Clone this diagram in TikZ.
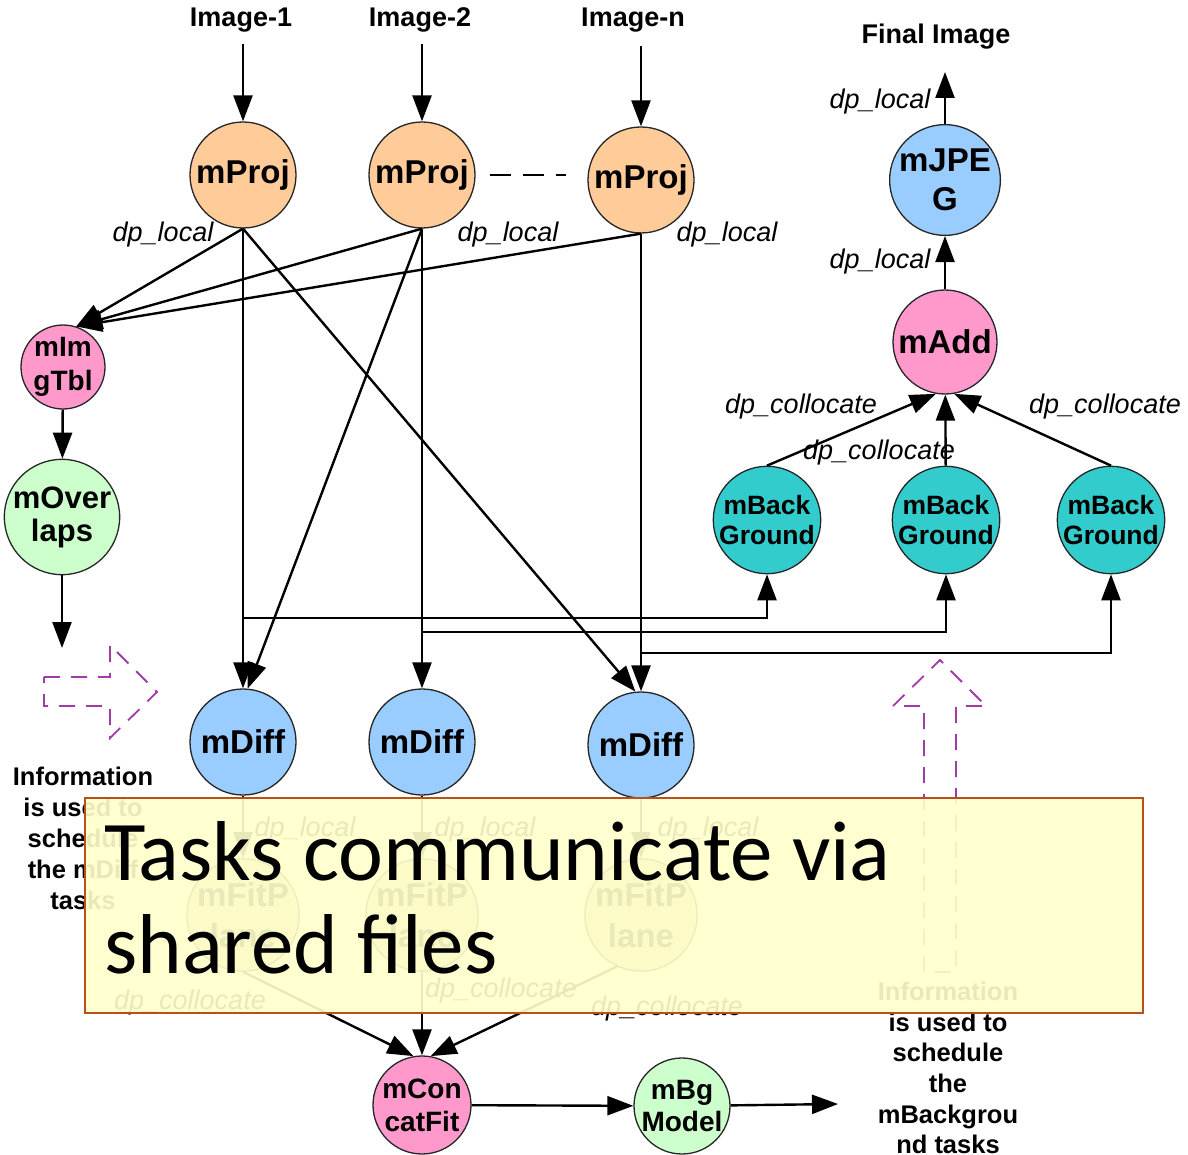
\documentclass[tikz,border=0pt]{standalone}
\usepackage{fontspec}
\setmainfont{Liberation Sans}
\newfontfamily\calibrifont{Carlito}
\usetikzlibrary{arrows.meta}
\definecolor{projc}{HTML}{FFCC99}
\definecolor{pinkc}{HTML}{FF99CC}
\definecolor{greenc}{HTML}{CCFFCC}
\definecolor{bluec}{HTML}{99CCFF}
\definecolor{tealc}{HTML}{33CCCC}
\definecolor{fitc}{HTML}{E6C896}
\definecolor{purplec}{HTML}{A03CA8}
\definecolor{notec}{HTML}{FFFFCC}
\definecolor{noteb}{HTML}{B8501E}
\begin{document}
\begin{tikzpicture}[x=1pt,y=-1pt,
 task/.style={circle, draw=black!85, line width=1.3pt, inner sep=0pt, minimum size=#1, align=center, font=\bfseries\fontsize{33}{38}\selectfont},
 txt/.style={inner sep=0pt, align=center, font=\bfseries\fontsize{27}{31}\selectfont},
 lbl/.style={inner sep=0pt, font=\itshape\fontsize{27}{30}\selectfont},
 conn/.style={line width=2.4pt, -{Triangle[length=26pt,width=19pt]}},
 hollow/.style={draw=purplec, line width=1.8pt, dash pattern=on 16pt off 11pt},
]
\useasboundingbox (0,0) rectangle (1188,1155);
\fill[white] (0,0) rectangle (1188,1155);

% top labels
\node[txt] (im1) at (241,20) {Image-1};
\node[txt] (im2) at (420,20) {Image-2};
\node[txt] (imn) at (633,20) {Image-n};
\node[txt] (fin) at (936,37) {Final Image};

% tasks
\node[task=106, fill=projc] (p1) at (243,175) {mProj};
\node[task=106, fill=projc] (p2) at (422,175) {mProj};
\node[task=106, fill=projc] (pn) at (641,180) {mProj};
\node[task=84, fill=pinkc, font=\bfseries\fontsize{28}{34}\selectfont] (img) at (63,367) {mIm\\gTbl};
\node[task=102, fill=greenc, font=\bfseries\fontsize{31}{33}\selectfont] (ov) at (62,517) {mOver\\laps};
\node[task=106, fill=bluec] (d1) at (243,742) {mDiff};
\node[task=106, fill=bluec] (d2) at (422,742) {mDiff};
\node[task=106, fill=bluec] (d3) at (641,745) {mDiff};
\node[task=106, fill=fitc, font=\bfseries\fontsize{33}{41}\selectfont] (f1) at (243,915) {mFitP\\lane};
\node[task=106, fill=fitc, font=\bfseries\fontsize{33}{41}\selectfont] (f2) at (422,915) {mFitP\\lane};
\node[task=106, fill=fitc, font=\bfseries\fontsize{33}{41}\selectfont] (f3) at (641,915) {mFitP\\lane};
\node[task=98, fill=pinkc, font=\bfseries\fontsize{28}{33}\selectfont] (cf) at (422,1105) {mCon\\catFit};
\node[task=96, fill=greenc, font=\bfseries\fontsize{28}{32}\selectfont] (bg) at (682,1106) {mBg\\Model};
\node[task=106, fill=tealc, font=\bfseries\fontsize{26.5}{30}\selectfont] (b1) at (767,520) {mBack\\Ground};
\node[task=106, fill=tealc, font=\bfseries\fontsize{26.5}{30}\selectfont] (b2) at (946,520) {mBack\\Ground};
\node[task=106, fill=tealc, font=\bfseries\fontsize{26.5}{30}\selectfont] (b3) at (1111,520) {mBack\\Ground};
\node[task=104, fill=pinkc] (add) at (945,342) {mAdd};
\node[task=106, fill=bluec, font=\bfseries\fontsize{33}{39}\selectfont] (jpg) at (945,180) {mJPE\\G};

% free ends and branch points
\coordinate (ovend) at (62,648);
\coordinate (finend) at (945,72);
\coordinate (bgend) at (838,1104);
\coordinate (br1) at (243,618);
\coordinate (br2) at (422,632);
\coordinate (br3) at (641,653);

% connectors
\draw[conn, shorten <=12pt] (im1.south -| p1.north) -- (p1.north);
\draw[conn, shorten <=12pt] (im2.south -| p2.north) -- (p2.north);
\draw[conn, shorten <=14pt] (imn.south -| pn.north) -- (pn.north);
\draw[dash pattern=on 21pt off 12pt, line width=2.2pt] ([xshift=14pt]p2.east) -- ([xshift=-21pt]p2.east -| pn.west);

\draw[conn] (p1.south) -- (img.72);
\draw[conn] (p2.south) -- (img.72);
\draw[conn] (pn.south) -- (img.72);
\draw[conn] (p1) -- (d1);
\draw[conn] (p1.south) -- (d3.96);
\draw[conn] (p2.south) -- (d1.85);
\draw[conn] (p2) -- (d2);
\draw[conn] (pn) -- (d3);
\draw[conn] (img) -- (ov);
\draw[conn] (ov) -- (ovend);

\draw[conn] (br1) -| (b1.south);
\draw[conn] (br2) -| (b2.south);
\draw[conn] (br3) -| (b3.south);

\draw[conn] (b1.north) -- (add.-100);
\draw[conn] (b2) -- (add);
\draw[conn] (b3.north) -- (add.-80);
\draw[conn] (add) -- (jpg);
\draw[conn] (jpg) -- (finend);

\draw[conn] (d1) -- (f1);
\draw[conn] (d2) -- (f2);
\draw[conn] (d3) -- (f3);
\draw[conn] (f1.south) -- (cf.100);
\draw[conn] (f2) -- (cf);
\draw[conn] (f3.-115) -- (cf.80);
\draw[conn] (cf) -- (bg);
\draw[conn] (bg) -- (bgend);

% edge labels
\node[lbl] (l1) at (163,235) {dp\_local};
\node[lbl] (l2) at (508,235) {dp\_local};
\node[lbl] (l3) at (727,235) {dp\_local};
\node[lbl] (l4) at (880,102) {dp\_local};
\node[lbl] (l5) at (880,262) {dp\_local};
\node[lbl] (l6) at (305,830) {dp\_local};
\node[lbl] (l7) at (485,830) {dp\_local};
\node[lbl] (l8) at (708,830) {dp\_local};
\node[lbl] (c1) at (801,407) {dp\_collocate};
\node[lbl] (c2) at (879,453) {dp\_collocate};
\node[lbl] (c3) at (1105,407) {dp\_collocate};
\node[lbl] (c4) at (190,1003) {dp\_collocate};
\node[lbl] (c5) at (501,991) {dp\_collocate};
\node[lbl] (c6) at (667,1009) {dp\_collocate};

% notes
\node[txt, font=\bfseries\fontsize{25.5}{31}\selectfont] (info1) at (83,838) {Information\\is used to\\schedule\\the mDiff\\tasks};
\node[txt, font=\bfseries\fontsize{25.5}{30.6}\selectfont] (info2) at (948,1068) {Information\\is used to\\schedule\\the\\mBackgrou\\nd tasks};

% hollow dashed arrows
\draw[hollow] (44,677) -- (110,677) -- (110,645) -- (157,692) -- (110,738) -- (110,706) -- (44,706) -- cycle;
\draw[hollow] (924,972) -- (924,706) -- (893,706) -- (940,660) -- (986,706) -- (956,706) -- (956,972) -- cycle;

% overlay callout
\fill[notec, fill opacity=0.91] (85,798) rectangle (1143,1013);
\draw[noteb, line width=1.6pt] (85,798) rectangle (1143,1013);
\node[anchor=base west, inner sep=0pt, font=\calibrifont\fontsize{85}{93}\selectfont] (t1) at (104,880) {Tasks communicate via};
\node[anchor=base west, inner sep=0pt, font=\calibrifont\fontsize{85}{93}\selectfont] (t2) at (104,973) {shared files};
\end{tikzpicture}
\end{document}
